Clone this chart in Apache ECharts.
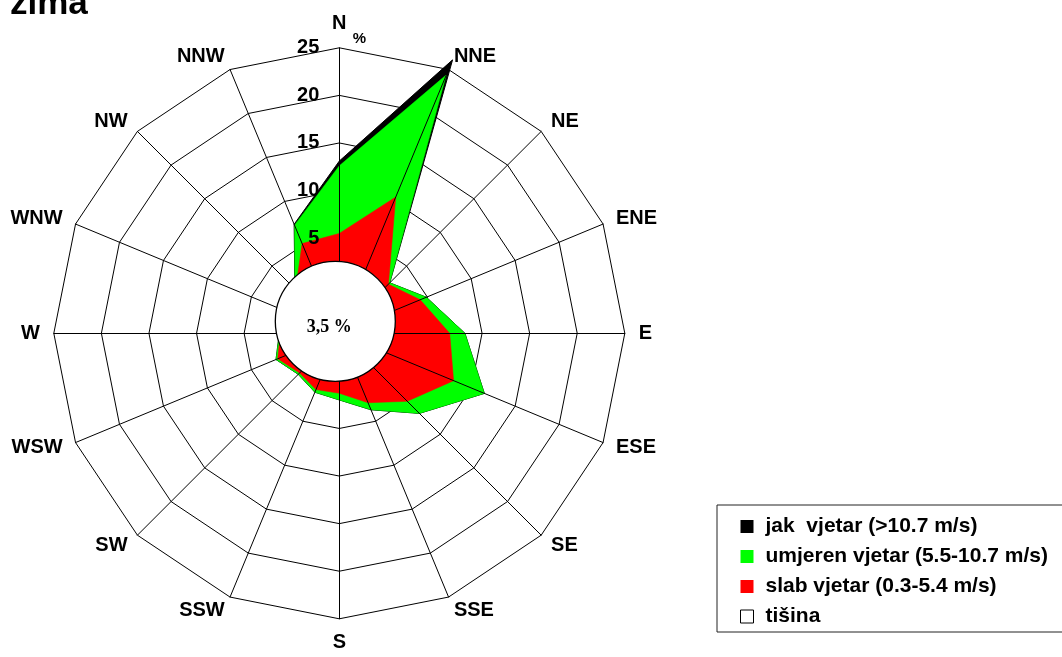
<!DOCTYPE html>
<html><head><meta charset="utf-8">
<script src="https://cdn.jsdelivr.net/npm/echarts@6/dist/echarts.min.js"></script>
<style>html,body{margin:0;padding:0;background:#fff}#c{width:1062px;height:657px}</style>
</head><body><div id="c"></div>
<script>
// Directions in compass (clockwise) order
const directions = ['N','NNE','NE','ENE','E','ESE','SE','SSE','S','SSW','SW','WSW','W','WNW','NW','NNW'];
// Frequencies (%) per wind-speed class
const slab    = [5.5, 10.5, 2.3, 4.2, 6.6, 8.0, 5.1, 2.9, 1.3, 1.4, 0.9, 2.0, 1.2, 1.2, 1.5, 5.2];
const umjeren = [7.1, 13.9, 0.2, 0.7, 1.6, 3.5, 1.8, 0.8, 0.7, 0.3, 0.2, 0.2, 0.1, 0.1, 0.1, 2.1];
const jak     = [0.5, 1.7, 0, 0, 0, 0, 0, 0, 0, 0, 0, 0, 0, 0, 0, 0.1];
const calm = 3.5;
const radialTicks = [5, 10, 15, 20, 25];
const classNames = ['jak  vjetar (>10.7 m/s)', 'umjeren vjetar (5.5-10.7 m/s)', 'slab vjetar (0.3-5.4 m/s)', 'tišina'];
const title = 'zima';

const FONT = 'Liberation Sans, Arial, sans-serif';
const CX = 339.3, CY = 333.3, R = 285.5;
const RMIN = -5, RMAX = radialTicks[radialTicks.length - 1];
const SPLIT = (RMAX - RMIN) / (radialTicks[1] - radialTicks[0]);

// cumulative totals
const cumRed = slab.map(v => +v.toFixed(2));
const cumGreen = slab.map((v, i) => +(v + umjeren[i]).toFixed(2));
const cumBlack = cumGreen.map((v, i) => +(v + jak[i]).toFixed(2));

// ECharts radar runs counter-clockwise: reorder so compass runs clockwise
const order = directions.map((d, i) => (16 - i) % 16);
const reorder = arr => order.map(k => arr[k]);

function indicators(withLabel) {
  return order.map((k, j) => {
    const o = { name: directions[k], min: RMIN, max: RMAX };
    if (withLabel && j === 0) o.axisLabel = { show: true };
    return o;
  });
}

const chart = echarts.init(document.getElementById('c'));
chart.setOption({
  animation: false,
  backgroundColor: '#fff',
  title: { text: title, left: 10, top: -13, padding: 0,
    textStyle: { fontFamily: FONT, fontSize: 35, fontWeight: 'bold', color: '#000' } },
  legend: {
    orient: 'vertical', left: 717, top: 505, padding: [11, 21, 5, 23],
    itemWidth: 13, itemHeight: 13, itemGap: 9, icon: 'rect',
    borderColor: '#222', borderWidth: 1, backgroundColor: '#fff', selectedMode: false,
    textStyle: { fontFamily: FONT, fontSize: 21, fontWeight: 'bold', color: '#000', lineHeight: 21, padding: [0, 0, 0, 7] },
    data: [
      { name: classNames[0], itemStyle: { color: '#000' } },
      { name: classNames[1], itemStyle: { color: '#00ff00' } },
      { name: classNames[2], itemStyle: { color: '#ff0000' } },
      { name: classNames[3], itemStyle: { color: '#fff', borderColor: '#000', borderWidth: 1 } }
    ]
  },
  radar: [
    {
      center: [CX, CY], radius: R, startAngle: 90, shape: 'polygon', splitNumber: SPLIT,
      indicator: indicators(false), z: 0,
      axisName: { color: '#000', fontSize: 20, fontWeight: 'bold', fontFamily: FONT },
      nameGap: 14,
      axisLine: { show: false },
      splitLine: { lineStyle: { color: '#000', width: 1 } },
      splitArea: { show: false },
      axisTick: { show: false },
      axisLabel: { show: false }
    },
    {
      center: [CX, CY], radius: R, startAngle: 90, shape: 'polygon', splitNumber: SPLIT,
      indicator: indicators(true), z: 3,
      axisName: { show: false },
      axisLine: { show: true, lineStyle: { color: '#000', width: 1 } },
      splitLine: { show: false },
      splitArea: { show: false },
      axisTick: { show: false },
      axisLabel: { show: false, margin: 20, color: '#000', fontSize: 20, fontWeight: 'bold', fontFamily: FONT,
        formatter: v => (radialTicks.indexOf(v) >= 0 ? String(v) : '') }
    }
  ],
  graphic: [
    { type: 'text', x: CX + 20, y: CY - 294, z: 10,
      style: { text: '%', fill: '#000', font: 'bold 15px ' + FONT, align: 'center', verticalAlign: 'middle' } }
  ],
  series: [
    { type: 'radar', radarIndex: 0, z: 2, symbol: 'none', silent: true,
      data: [{ name: classNames[0], value: reorder(cumBlack) }],
      lineStyle: { color: '#000', width: 1 }, itemStyle: { color: '#000' },
      areaStyle: { color: '#000', opacity: 1 } },
    { type: 'radar', radarIndex: 0, z: 2, symbol: 'none', silent: true,
      data: [{ name: classNames[1], value: reorder(cumGreen) }],
      lineStyle: { color: '#00ff00', width: 0.5 }, itemStyle: { color: '#00ff00' },
      areaStyle: { color: '#00ff00', opacity: 1 } },
    { type: 'radar', radarIndex: 0, z: 2, symbol: 'none', silent: true,
      data: [{ name: classNames[2], value: reorder(cumRed) }],
      lineStyle: { color: '#ff0000', width: 0.5 }, itemStyle: { color: '#ff0000' },
      areaStyle: { color: '#ff0000', opacity: 1 } },
    { type: 'pie', center: [CX - 4, CY - 12], radius: 60, z: 4, silent: true,
      data: [{ name: classNames[3], value: calm }],
      itemStyle: { color: '#fff', borderColor: '#000', borderWidth: 1.3 },
      label: { show: true, position: 'center', offset: [-6, 6],
        formatter: () => String(calm).replace('.', ',') + ' %',
        fontFamily: 'Liberation Serif, Times New Roman, serif', fontWeight: 'bold', fontSize: 18, color: '#000' },
      labelLine: { show: false }, emphasis: { disabled: true } }
  ]
});
</script>
</body></html>
